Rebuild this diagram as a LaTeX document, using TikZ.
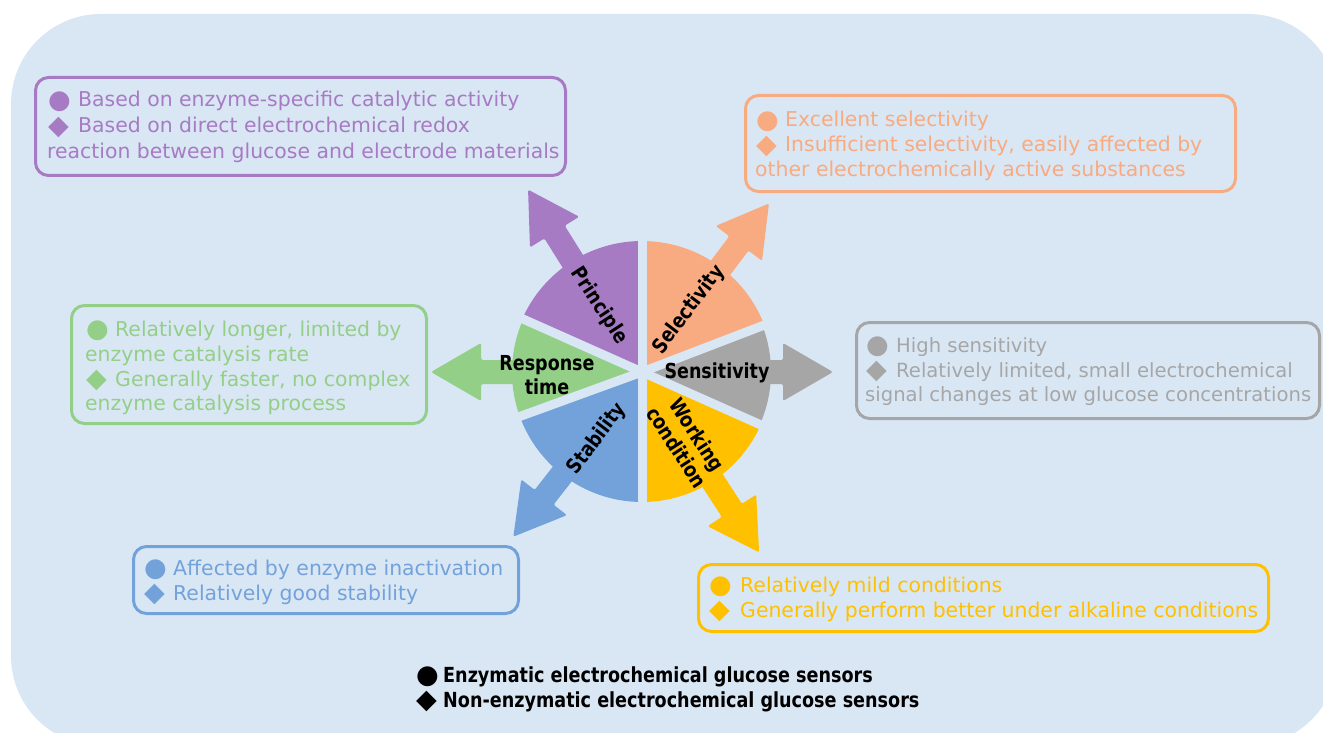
\documentclass[tikz,border=0pt]{standalone}
\usepackage{fontspec}
\setmainfont{DejaVu Sans}
\newfontfamily\labfont{DejaVu Sans Bold}
\newfontfamily\bulfont{DejaVu Sans}
\newcommand\cb[1][30pt]{\makebox[#1][l]{\raisebox{-1.5pt}{\bulfont\fontsize{26}{25}\selectfont ●}}}
\newcommand\db[1][30pt]{\makebox[#1][l]{\raisebox{-1.5pt}{\bulfont\fontsize{27}{25}\selectfont ◆}}}
\newcommand\tall[1]{\scalebox{1}[1.18]{#1}}
\definecolor{bgc}{HTML}{D9E7F5}
\definecolor{cpur}{HTML}{A77BC3}
\definecolor{csal}{HTML}{F8AA80}
\definecolor{cgry}{HTML}{A6A6A6}
\definecolor{cyel}{HTML}{FFC000}
\definecolor{cblu}{HTML}{73A2DA}
\definecolor{cgrn}{HTML}{94CF88}
\begin{document}
\begin{tikzpicture}[x=1pt,y=-1pt,
  box/.style={draw, line width=3pt, rounded corners=13pt, inner sep=0pt},
  txt/.style={anchor=base west, inner sep=0pt, font=\fontsize{20.4}{25}\selectfont},
  txs/.style={anchor=base west, inner sep=0pt, font=\fontsize{19.6}{25}\selectfont},
  lab/.style={inner sep=0pt, align=center, font=\labfont\fontsize{17.5}{24}\selectfont, text=black},
  leg/.style={anchor=base west, inner sep=0pt, font=\labfont\fontsize{17.6}{25}\selectfont, text=black}]
\useasboundingbox (0,0) rectangle (1323,733);
\fill[bgc, rounded corners=90pt] (11,14) rectangle (1338,746);

% wheel
\coordinate (ctr) at (642,372);
\begin{scope}[shift={(ctr)}]
  \foreach \ang/\len/\col in {122/215/cpur, 53/211/csal, 0/191/cgry, -57/215/cyel, 232/209/cblu, 180/211/cgrn}{
    \fill[\col, rotate=\ang, rounded corners=1.5pt]
      (60,-12) -- (\len-50,-12) -- (\len-50,-29) -- (\len,0) -- (\len-50,29) -- (\len-50,12) -- (60,12) -- cycle;
  }
  \fill[csal] (0,0) -- (21:131pt) arc[start angle=21, end angle=90, radius=131pt] -- cycle;
  \fill[cpur] (0,0) -- (90:131pt) arc[start angle=90, end angle=156, radius=131pt] -- cycle;
  \fill[cgrn] (0,0) -- (156:130pt) arc[start angle=156, end angle=200, radius=130pt] -- cycle;
  \fill[cblu] (0,0) -- (200:130pt) arc[start angle=200, end angle=270, radius=130pt] -- cycle;
  \fill[cyel] (0,0) -- (270:130pt) arc[start angle=270, end angle=336, radius=130pt] -- cycle;
  \fill[cgry] (0,0) -- (-24:129pt) arc[start angle=-24, end angle=21, radius=129pt] -- cycle;
  \foreach \ang in {21,90,156,200,270,336}{
    \draw[bgc, line width=9pt] (0,0) -- (\ang:140pt);
  }
\end{scope}

% wheel labels
\node[lab, rotate=-57] (lprin) at (599,306) {\tall{Principle}};
\node[lab, rotate=53] (lsel) at (689,310) {\tall{Selectivity}};
\node[lab] (lsens) at (717,373) {\tall{Sensitivity}};
\node[lab] (lresp) at (547,375) {\tall{Response}\\\tall{time}};
\node[lab, rotate=53] (lstab) at (597,439) {\tall{Stability}};
\node[lab, rotate=-57] (lwork) at (687,441) {\tall{Working}\\\tall{condition}};

% boxes
\node[box, draw=cpur, minimum width=530pt, minimum height=98pt] (pbox) at (300.5,126.5) {};
\node[box, draw=csal, minimum width=490pt, minimum height=96pt] (sbox) at (990.5,143.5) {};
\node[box, draw=cgrn, minimum width=355pt, minimum height=118pt] (rbox) at (249,364.5) {};
\node[box, draw=cgry, minimum width=463pt, minimum height=96pt] (nbox) at (1088,370.5) {};
\node[box, draw=cblu, minimum width=385pt, minimum height=67pt] (tbox) at (326,580) {};
\node[box, draw=cyel, minimum width=570pt, minimum height=67pt] (wbox) at (983.5,598) {};

% texts
\node[txt, text=cpur] (p1) at (48,107) {\cb Based on enzyme-specific catalytic activity};
\node[txt, text=cpur] (p2) at (48,133) {\db Based on direct electrochemical redox};
\node[txt, text=cpur] (p3) at (47,159) {reaction between glucose and electrode materials};

\node[txt, text=csal] (s1) at (756,127) {\cb[29pt]Excellent selectivity};
\node[txt, text=csal] (s2) at (756,152) {\db[29pt]Insufficient selectivity, easily affected by};
\node[txt, text=csal] (s3) at (755,177) {other electrochemically active substances};

\node[txt, text=cgrn] (r1) at (86,336) {\cb[29pt]Relatively longer, limited by};
\node[txt, text=cgrn] (r2) at (85,361) {enzyme catalysis rate};
\node[txt, text=cgrn] (r3) at (86,386) {\db[29pt]Generally faster, no complex};
\node[txt, text=cgrn] (r4) at (85,410) {enzyme catalysis process};

\node[txs, text=cgry] (n1) at (866,352) {\cb[30pt]High sensitivity};
\node[txs, text=cgry] (n2) at (866,377) {\db[30pt]Relatively limited, small electrochemical};
\node[txs, text=cgry] (n3) at (865,401) {signal changes at low glucose concentrations};

\node[txt, text=cblu] (t1) at (144,575) {\cb[29pt]Affected by enzyme inactivation};
\node[txt, text=cblu] (t2) at (144,600) {\db[29pt]Relatively good stability};

\node[txt, text=cyel] (w1) at (709,592) {\cb[31pt]Relatively mild conditions};
\node[txt, text=cyel] (w2) at (709,617) {\db[31pt]Generally perform better under alkaline conditions};

\node[leg] (l1) at (416,682) {\cb[27pt]\tall{Enzymatic electrochemical glucose sensors}};
\node[leg] (l2) at (416,707) {\db[27pt]\tall{Non-enzymatic electrochemical glucose sensors}};
\end{tikzpicture}
\end{document}
